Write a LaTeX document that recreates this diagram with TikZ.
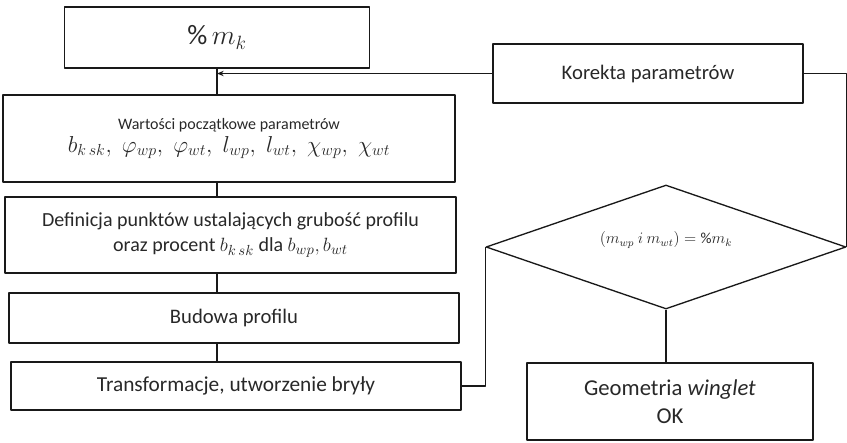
\documentclass[tikz,border=0pt]{standalone}
\usepackage{fontspec}
\setmainfont{Carlito}
\usetikzlibrary{arrows.meta,shapes.geometric,positioning}
\definecolor{fg}{RGB}{25,25,25}
\definecolor{txt}{RGB}{40,40,40}
\newcommand\fs[1]{\fontsize{#1}{\dimexpr #1pt*5/4\relax}\selectfont}
\tikzset{
  every picture/.style={fg, line width=1pt, line join=round,
    >={Stealth[length=5pt,width=4pt]}},
  every node/.style={font=\fs{12}, text=txt},
  % Bausteine des Ablaufs
  box/.style={draw=fg, rectangle, inner sep=0pt, align=center},
  test/.style={draw=fg, diamond, aspect=2.9, inner sep=0pt, align=center},
  flow/.style={fg, line width=1pt},
}

\begin{document}
\begin{tikzpicture}[x=0.75pt, y=-0.75pt]
  \useasboundingbox (0,0) rectangle (847,443);
  % linke Spalte
  \node[box, minimum width=228.75pt, minimum height=45.75pt,
    font=\fs{21}] (mk) at (217,37.5) {\%\,$m_k$};
  \node[box, minimum width=339pt, minimum height=65.25pt] (start) at (229,138.5)
    {Wartości początkowe parametrów\\[2pt]
     {\fs{16.5}$b_{k\,sk},\; \varphi_{wp},\; \varphi_{wt},\; l_{wp},\; l_{wt},\; \chi_{wp},\; \chi_{wt}$}};
  \node[box, minimum width=338.25pt, minimum height=57pt, font=\fs{15}] (punkty) at (230.5,235)
    {Definicja punktów ustalających grubość profilu\\
     oraz procent $b_{k\,sk}$ dla $b_{wp}, b_{wt}$};
  \node[box, minimum width=337.5pt, minimum height=37.5pt, font=\fs{15.5}] (profil) at (234,318)
    {Budowa profilu};
  \node[box, minimum width=337.5pt, minimum height=36pt, font=\fs{16}] (bryla) at (236,386)
    {Transformacje, utworzenie bryły};
  % rechte Seite
  \node[box, minimum width=232.5pt, minimum height=44.25pt, font=\fs{15.5}] (korekta) at (648,73.5)
    {Korekta parametrów};
  \node[test, minimum width=270pt, minimum height=93pt] (warunek) at (666,247) {};
  \node[font=\fs{11.5}] (wtxt) at (666,240) {$(m_{wp}\ i\ m_{wt}) = \%m_k$};
  \node[box, minimum width=214.5pt, minimum height=57.75pt,
    font=\fs{17}] (geo) at (670,401.5)
    {Geometria \emph{winglet}\\ OK};
  % Verbindungen
  \draw[flow] (mk.south) -- (mk.south |- start.north);
  \draw[flow, ->] (korekta.west) -- (korekta.west -| mk.south);
  \draw[flow] (start.south -| mk.south) -- (punkty.north -| mk.south);
  \draw[flow] (punkty.south -| mk.south) -- (profil.north -| mk.south);
  \draw[flow] (profil.south -| mk.south) -- (bryla.north -| mk.south);
  \draw[flow] (bryla.east) -| (warunek.west);
  \draw[flow] (warunek.south) -- (warunek.south |- geo.north);
  \draw[flow] (warunek.east) |- (korekta.east);
\end{tikzpicture}
\end{document}
